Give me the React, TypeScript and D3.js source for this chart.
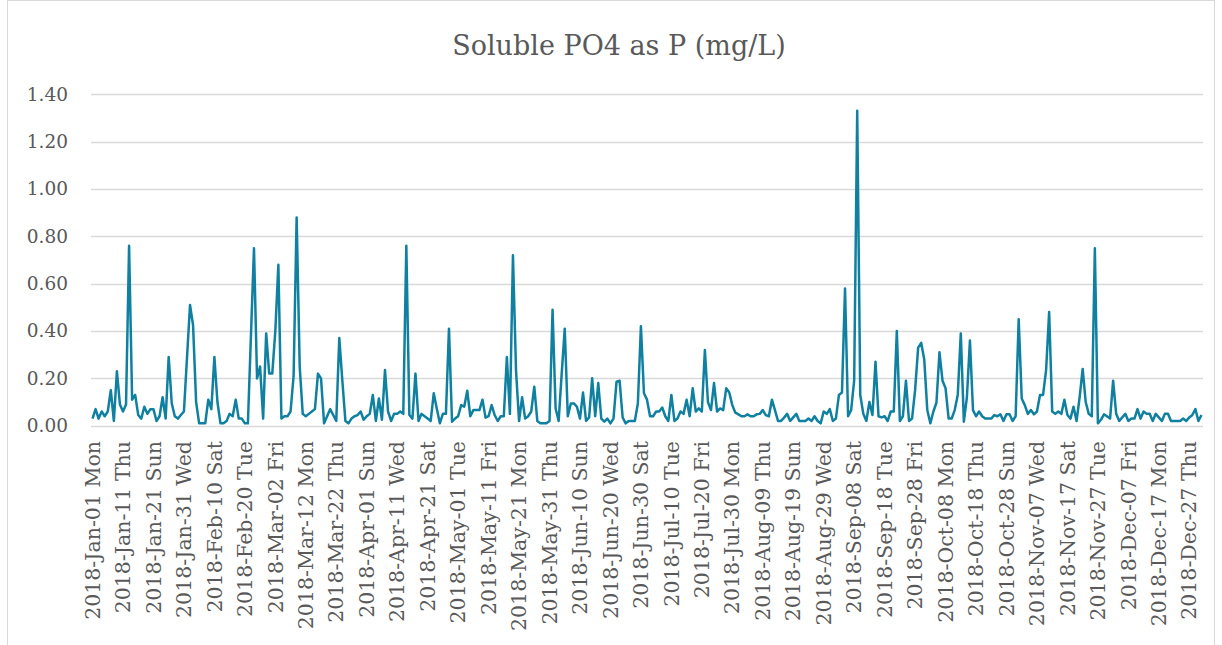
import React, { useEffect, useRef } from 'react';
import * as d3 from 'd3';

// daily soluble PO4 readings for 2018, Jan 1 .. Dec 31 (null = no reading that day)
const startDate = new Date(2018, 0, 1);
const values: (number | null)[] = [
  0.03, 0.07, 0.03, 0.06, 0.04, 0.06, 0.15, 0.02, 0.23, 0.09,
  0.06, 0.09, 0.76, 0.11, 0.13, 0.045, 0.03, 0.08, 0.05, 0.07,
  0.07, 0.02, 0.04, 0.12, 0.03, 0.29, 0.095, 0.04, 0.03, 0.045,
  0.06, null, 0.51, 0.425, 0.10, 0.01, 0.01, 0.01, 0.11, 0.07,
  0.29, 0.10, 0.01, 0.01, 0.02, 0.05, 0.04, 0.11, 0.03, 0.03,
  0.01, 0.01, null, 0.75, 0.20, 0.25, 0.03, 0.39, 0.22, 0.22,
  0.40, 0.68, 0.03, 0.04, 0.04, 0.06, 0.21, 0.88, 0.25, 0.05,
  0.04, 0.05, 0.06, 0.07, 0.22, 0.20, 0.01, 0.04, 0.07, 0.045,
  0.02, 0.37, 0.19, 0.02, 0.01, 0.03, 0.04, 0.045, 0.06, 0.025,
  0.04, 0.05, 0.13, 0.02, 0.115, 0.025, 0.235, 0.06, 0.02, 0.05,
  0.05, 0.06, 0.05, 0.76, 0.045, 0.03, 0.22, 0.02, 0.05, 0.04,
  0.03, 0.02, 0.137, 0.073, 0.01, 0.05, 0.05, 0.41, 0.017, 0.03,
  0.04, 0.087, 0.08, 0.148, 0.04, 0.066, 0.066, 0.066, 0.11, 0.034,
  0.04, 0.087, 0.045, 0.02, 0.04, 0.04, 0.29, 0.05, 0.72, 0.235,
  0.02, 0.12, 0.03, 0.04, 0.06, 0.165, 0.02, 0.01, 0.01, 0.01,
  0.02, 0.49, 0.073, 0.02, 0.22, 0.41, 0.04, 0.094, 0.094, 0.08,
  0.03, 0.14, 0.02, 0.035, 0.20, 0.04, 0.18, 0.03, 0.017, 0.03,
  0.01, 0.03, 0.186, 0.19, 0.035, 0.01, 0.02, 0.02, 0.02, 0.094,
  0.42, 0.137, 0.11, 0.04, 0.04, 0.06, 0.06, 0.077, 0.04, 0.02,
  0.13, 0.02, 0.03, 0.06, 0.05, 0.11, 0.04, 0.158, 0.06, 0.073,
  0.06, 0.32, 0.10, 0.066, 0.18, 0.06, 0.073, 0.066, 0.158, 0.14,
  0.087, 0.055, 0.048, 0.04, 0.04, 0.048, 0.04, 0.04, 0.048, 0.05,
  0.066, 0.045, 0.04, 0.11, 0.066, 0.02, 0.02, 0.034, 0.05, 0.02,
  0.035, 0.05, 0.02, 0.02, 0.02, 0.03, 0.02, 0.04, 0.02, 0.01,
  0.06, 0.05, 0.07, 0.02, 0.03, 0.13, 0.14, 0.58, 0.04, 0.066,
  0.19, 1.33, 0.13, 0.05, 0.02, 0.10, 0.045, 0.27, 0.04, 0.035,
  0.04, 0.02, 0.06, 0.06, 0.40, 0.02, 0.04, 0.19, 0.02, 0.03,
  0.15, 0.33, 0.35, 0.28, 0.066, 0.01, 0.06, 0.097, 0.31, 0.19,
  0.158, 0.03, 0.03, 0.066, 0.13, 0.39, 0.017, 0.12, 0.36, 0.066,
  0.04, 0.06, 0.04, 0.03, 0.03, 0.03, 0.045, 0.04, 0.048, 0.02,
  0.048, 0.048, 0.02, 0.04, 0.45, 0.115, 0.087, 0.05, 0.066, 0.048,
  0.06, 0.13, 0.13, 0.235, 0.48, 0.06, 0.05, 0.06, 0.05, 0.11,
  0.045, 0.03, 0.08, 0.02, 0.12, 0.24, 0.10, 0.05, 0.04, 0.75,
  0.01, 0.025, 0.048, 0.04, 0.03, 0.19, 0.05, 0.02, 0.035, 0.05,
  0.02, 0.03, 0.03, 0.07, 0.03, 0.06, 0.05, 0.05, 0.02, 0.05,
  0.035, 0.02, 0.05, 0.05, 0.02, 0.02, 0.02, 0.02, 0.03, 0.02,
  0.035, 0.045, 0.07, 0.02, 0.045,
];
const yTicks = [0, 0.2, 0.4, 0.6, 0.8, 1.0, 1.2, 1.4];
const labelEvery = 10;

const fmtDay = d3.timeFormat('%Y-%b-%d %a');

const App = () => {
  const svgRef = useRef<SVGSVGElement>(null);

  useEffect(() => {
    const svg = d3.select(svgRef.current);
    svg.selectAll('*').remove();

    const W = 1222, H = 645;
    const left = 91, right = 1203, top = 94.3, bottom = 425.7;
    const font = '"DejaVu Serif", serif';
    const grey = '#595959';

    const days = d3.timeDay.range(startDate, d3.timeDay.offset(startDate, values.length));
    const cats = days.map((d) => fmtDay(d));

    const x = d3.scaleBand<string>().domain(cats).range([left, right]);
    const y = d3.scaleLinear().domain([0, 1.4]).range([bottom, top]);
    const cx = (c: string) => (x(c) as number) + x.bandwidth() / 2;

    svg.append('rect')
      .attr('x', 0).attr('y', 0).attr('width', W).attr('height', H)
      .attr('fill', '#fff');
    svg.append('rect')
      .attr('x', 7.5).attr('y', 0.5).attr('width', 1207).attr('height', 700)
      .attr('fill', 'none').attr('stroke', '#d9d9d9');

    // gridlines
    svg.append('g')
      .selectAll('line')
      .data(yTicks)
      .enter()
      .append('line')
      .attr('x1', left).attr('x2', right)
      .attr('y1', (d) => Math.round(y(d)) + 0.5)
      .attr('y2', (d) => Math.round(y(d)) + 0.5)
      .attr('stroke', '#d9d9d9')
      .attr('stroke-width', 1.3);

    // y labels
    svg.append('g')
      .selectAll('text')
      .data(yTicks)
      .enter()
      .append('text')
      .text((d) => d.toFixed(2))
      .attr('x', 68)
      .attr('y', (d) => y(d))
      .attr('dy', '0.35em')
      .attr('text-anchor', 'end')
      .style('font-family', font)
      .style('font-size', '18.5px')
      .style('fill', grey);

    // x labels, every 10th day
    const shown = cats.filter((c, i) => i % labelEvery === 0);
    svg.append('g')
      .selectAll('text')
      .data(shown)
      .enter()
      .append('text')
      .text((d) => d)
      .attr('transform', (d) => `translate(${cx(d)}, 441) rotate(-90)`)
      .attr('dy', '0.35em')
      .attr('text-anchor', 'end')
      .style('font-family', font)
      .style('font-size', '20.5px')
      .style('fill', grey);

    const pts = values
      .map((v, i) => ({ c: cats[i], v }))
      .filter((p) => p.v !== null) as { c: string; v: number }[];

    const line = d3.line<{ c: string; v: number }>()
      .x((d) => cx(d.c))
      .y((d) => y(d.v));

    svg.append('path')
      .datum(pts)
      .attr('d', line)
      .attr('fill', 'none')
      .attr('stroke', '#0f80a0')
      .attr('stroke-width', 2.5)
      .attr('stroke-linejoin', 'round');

    svg.append('text')
      .text('Soluble PO4 as P (mg/L)')
      .attr('x', 619)
      .attr('y', 55)
      .attr('text-anchor', 'middle')
      .style('font-family', font)
      .style('font-size', '27px')
      .style('fill', grey);
  }, []);

  return (
    <svg ref={svgRef} width={1222} height={645}
      style={{ position: 'absolute', left: 0, top: 0 }} />
  );
};

export default App;
